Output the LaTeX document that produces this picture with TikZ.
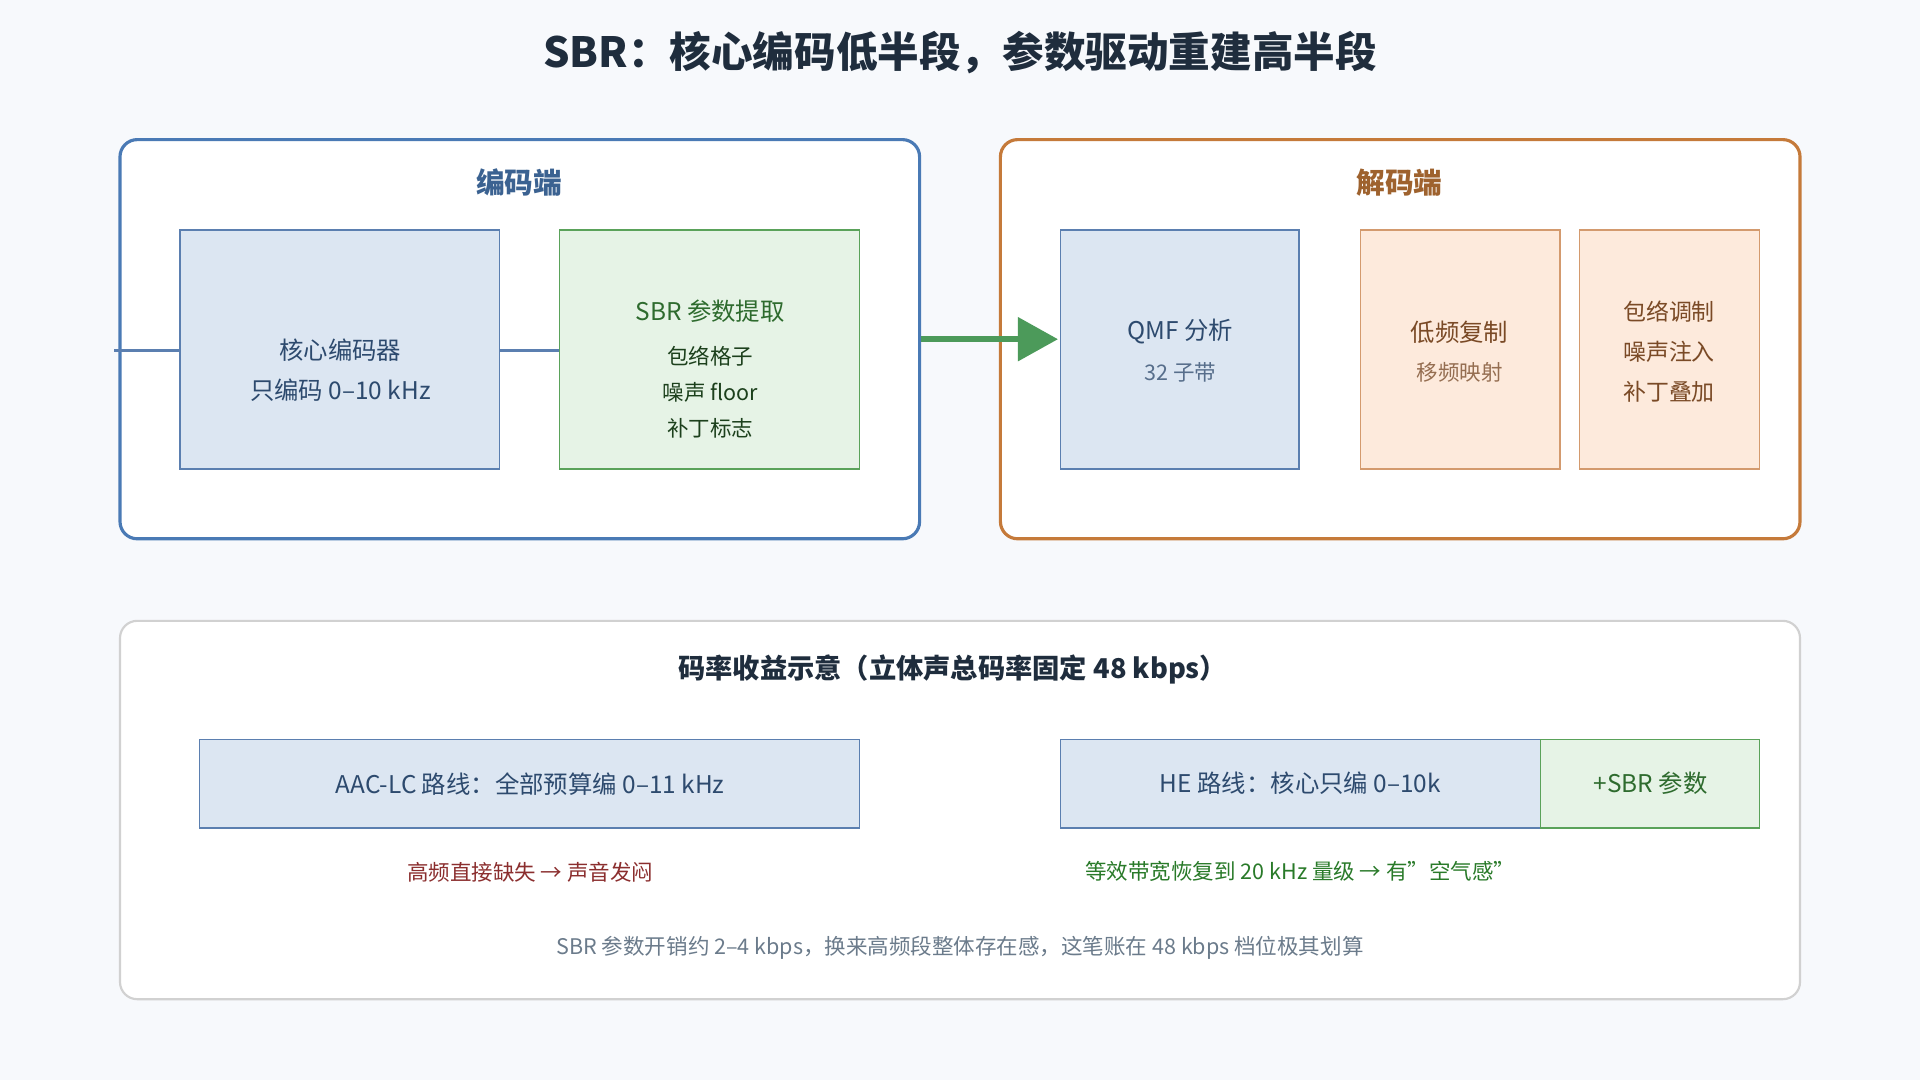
\documentclass[tikz,border=0pt]{standalone}
\usepackage{fontspec}
\setmainfont{Noto Sans CJK SC}
\usetikzlibrary{arrows.meta}
\definecolor{bg}{HTML}{F7F9FC}
\definecolor{titc}{HTML}{1F2D3D}
\definecolor{encb}{HTML}{4A7AB5}
\definecolor{decb}{HTML}{C57A3A}
\definecolor{bluef}{HTML}{DCE6F2}
\definecolor{blued}{HTML}{5B7FB0}
\definecolor{bluet}{HTML}{2D4A6E}
\definecolor{greenf}{HTML}{E6F3E6}
\definecolor{greend}{HTML}{5AA25A}
\definecolor{greent}{HTML}{2E6B2E}
\definecolor{orf}{HTML}{FDEADC}
\definecolor{ord}{HTML}{D39A6E}
\definecolor{ort}{HTML}{7A4A26}
\definecolor{redt}{HTML}{8B2E2E}
\definecolor{grayt}{HTML}{6B7B8B}
\definecolor{arr}{HTML}{4C9A5A}
\begin{document}
\begin{tikzpicture}[x=0.03cm,y=-0.03cm,
  panel/.style={draw, line width=2.2pt, rounded corners=12pt},
  box/.style={draw, line width=1.2pt, align=center, font=\fontsize{17}{26}\selectfont},
  bluebox/.style={box, fill=bluef, draw=blued, text=bluet},
  greenbox/.style={box, fill=greenf, draw=greend, text=greent},
  orbox/.style={box, fill=orf, draw=ord, text=ort},
  sub/.style={font=\fontsize{15}{26}\selectfont}]
\fill[bg] (0,0) rectangle (1568,882);
\useasboundingbox (0,0) rectangle (1568,882);
\node[font=\fontsize{29}{34}\selectfont\bfseries, text=titc] (title) at (784,43) {SBR：核心编码低半段，参数驱动重建高半段};
\draw[panel, draw=encb, fill=white] (98,114) rectangle (751,440);
\draw[panel, draw=decb, fill=white] (817,114) rectangle (1470,440);
\node[font=\fontsize{20}{24}\selectfont\bfseries, text=encb!80!black] (enc) at (424,149) {编码端};
\node[font=\fontsize{20}{24}\selectfont\bfseries, text=decb!80!black] (dec) at (1143,149) {解码端};
\node[bluebox, minimum width=262\pgflinewidth, inner sep=0] (core) at (278,286) {};
\draw[bluebox] (147,188) rectangle (408,383);
\node[text=bluet, align=center, font=\fontsize{17}{28}\selectfont] (coret) at (278,302) {核心编码器\\只编码 0–10 kHz};
\draw[greenbox] (457,188) rectangle (702,383);
\node[text=greent, align=center, font=\fontsize{17}{28}\selectfont] (sbrt) at (580,254) {SBR 参数提取};
\node[text=greent!60!black, align=center, font=\fontsize{15}{25}\selectfont] (sbrs) at (580,320) {包络格子\\噪声 floor\\补丁标志};
\draw[bluebox] (866,188) rectangle (1061,383);
\node[text=bluet, align=center, font=\fontsize{17}{28}\selectfont] (qmf) at (964,271) {QMF 分析};
\node[text=bluet!80, font=\fontsize{15}{25}\selectfont] (qmfs) at (964,304) {32 子带};
\draw[orbox] (1111,188) rectangle (1274,383);
\node[text=ort, font=\fontsize{17}{28}\selectfont] (lf) at (1192,271) {低频复制};
\node[text=ort!80, font=\fontsize{15}{25}\selectfont] (lfs) at (1192,304) {移频映射};
\draw[orbox] (1290,188) rectangle (1437,383);
\node[text=ort, align=center, font=\fontsize{16}{28}\selectfont] (env) at (1363,287) {包络调制\\噪声注入\\补丁叠加};
\coordinate (a1) at (752,277); \coordinate (a2) at (864,277);
\draw[arr, line width=4pt, -{Triangle[length=28pt,width=30pt]}] (a1) -- (a2);
\draw[line width=1.5pt, draw=black!18, fill=white, rounded corners=12pt] (98,507) rectangle (1470,816);
\node[font=\fontsize{19}{24}\selectfont\bfseries, text=titc] (bt) at (778,547) {码率收益示意（立体声总码率固定 48 kbps）};
\draw[bluebox] (163,604) rectangle (702,676);
\node[text=bluet, font=\fontsize{17}{24}\selectfont] (aac) at (433,640) {AAC-LC 路线：全部预算编 0–11 kHz};
\draw[bluebox] (866,604) rectangle (1258,676);
\node[text=bluet, font=\fontsize{17}{24}\selectfont] (he) at (1062,640) {HE 路线：核心只编 0–10k};
\draw[greenbox] (1258,604) rectangle (1437,676);
\node[text=greent, font=\fontsize{17}{24}\selectfont] (sbrp) at (1348,640) {+SBR 参数};
\node[text=redt, font=\fontsize{15}{20}\selectfont] (r1) at (433,712) {高频直接缺失 → 声音发闷};
\node[text=greent!90!green, font=\fontsize{15}{20}\selectfont] (r2) at (1062,712) {等效带宽恢复到 20 kHz 量级 → 有"空气感"};
\node[text=grayt, font=\fontsize{15}{20}\selectfont] (note) at (784,774) {SBR 参数开销约 2–4 kbps，换来高频段整体存在感，这笔账在 48 kbps 档位极其划算};
\end{tikzpicture}
\end{document}
